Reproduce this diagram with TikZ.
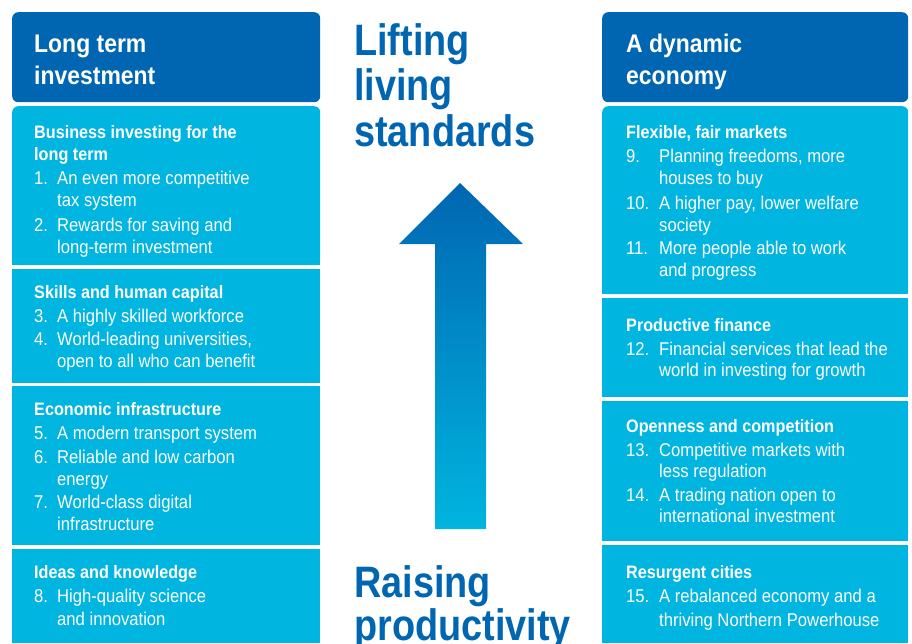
\documentclass[tikz,border=0pt]{standalone}
\usepackage{fontspec}
\setmainfont{Liberation Sans}[FakeStretch=0.9]
\newfontfamily\titlefont{Liberation Sans}[FakeStretch=0.86]
\definecolor{darkblue}{RGB}{0,102,178}
\definecolor{lightblue}{RGB}{0,181,223}
\begin{document}
\begin{tikzpicture}[x=1pt,y=-1pt,
headbox/.style={fill=darkblue,rounded corners=6pt,anchor=north west,inner sep=0pt},
sectbox/.style={fill=lightblue,anchor=north west,inner sep=0pt},
headtext/.style={anchor=base west,inner sep=0pt,text=white,font=\bfseries\fontsize{25.5}{30}\selectfont},
secttext/.style={anchor=base west,inner sep=0pt,text=white,font=\bfseries\fontsize{18}{22}\selectfont},
itemtext/.style={anchor=base west,inner sep=0pt,text=white,font=\fontsize{18.5}{22}\selectfont},
titletext/.style={anchor=base west,inner sep=0pt,text=darkblue,font=\titlefont\bfseries\fontsize{44}{46}\selectfont}]
\useasboundingbox (0,0) rectangle (912,643);
%left header
  \node[headbox,minimum width=308pt,minimum height=90pt] (lhead) at (12,12) {};
  \node[headtext] (lh1) at (34,52) {Long term};
  \node[headtext] (lh2) at (34,84) {investment};
%left 1
  \node[sectbox,rounded corners=6pt,minimum width=308pt,minimum height=159pt] (l1) at (12,106) {};
  \fill[lightblue] (l1.west) rectangle (l1.south east);
  \node[secttext] (l1t) at (34,138) {Business investing for the};
  \node[secttext] (l1u) at (34,160) {long term};
  \node[itemtext] (l1n1) at (34,184) {1.};
  \node[itemtext] (l1a) at (57,184) {An even more competitive};
  \node[itemtext] (l1b) at (57,206) {tax system};
  \node[itemtext] (l1n2) at (34,231) {2.};
  \node[itemtext] (l1c) at (57,231) {Rewards for saving and};
  \node[itemtext] (l1d) at (57,253) {long-term investment};
%left 2
  \node[sectbox,minimum width=308pt,minimum height=114pt] (l2) at (12,269) {};
  \node[secttext] (l2t) at (34,298) {Skills and human capital};
  \node[itemtext] (l2n3) at (34,322) {3.};
  \node[itemtext] (l2a) at (57,322) {A highly skilled workforce};
  \node[itemtext] (l2n4) at (34,345) {4.};
  \node[itemtext] (l2b) at (57,345) {World-leading universities,};
  \node[itemtext] (l2c) at (57,367) {open to all who can benefit};
%left 3
  \node[sectbox,minimum width=308pt,minimum height=159pt] (l3) at (12,386) {};
  \node[secttext] (l3t) at (34,415) {Economic infrastructure};
  \node[itemtext] (l3n5) at (34,439) {5.};
  \node[itemtext] (l3a) at (57,439) {A modern transport system};
  \node[itemtext] (l3n6) at (34,463) {6.};
  \node[itemtext] (l3b) at (57,463) {Reliable and low carbon};
  \node[itemtext] (l3c) at (57,485) {energy};
  \node[itemtext] (l3n7) at (34,508) {7.};
  \node[itemtext] (l3d) at (57,508) {World-class digital};
  \node[itemtext] (l3e) at (57,530) {infrastructure};
%left 4
  \node[sectbox,minimum width=308pt,minimum height=94pt] (l4) at (12,549) {};
  \node[secttext] (l4t) at (34,578) {Ideas and knowledge};
  \node[itemtext] (l4n8) at (34,602) {8.};
  \node[itemtext] (l4a) at (57,602) {High-quality science};
  \node[itemtext] (l4b) at (57,625) {and innovation};
%right header
  \node[headbox,minimum width=306pt,minimum height=90pt] (rhead) at (602,12) {};
  \node[headtext] (rh1) at (626,52) {A dynamic};
  \node[headtext] (rh2) at (626,84) {economy};
%right 1
  \node[sectbox,rounded corners=6pt,minimum width=306pt,minimum height=188pt] (r1) at (602,106) {};
  \fill[lightblue] (r1.west) rectangle (r1.south east);
  \node[secttext] (r1t) at (626,138) {Flexible, fair markets};
  \node[itemtext] (r1n9) at (626,162) {9.};
  \node[itemtext] (r1a) at (659,162) {Planning freedoms, more};
  \node[itemtext] (r1b) at (659,184) {houses to buy};
  \node[itemtext] (r1n10) at (626,209) {10.};
  \node[itemtext] (r1c) at (659,209) {A higher pay, lower welfare};
  \node[itemtext] (r1d) at (659,231) {society};
  \node[itemtext] (r1n11) at (626,254) {11.};
  \node[itemtext] (r1e) at (659,254) {More people able to work};
  \node[itemtext] (r1f) at (659,276) {and progress};
%right 2
  \node[sectbox,minimum width=306pt,minimum height=99pt] (r2) at (602,298) {};
  \node[secttext] (r2t) at (626,331) {Productive finance};
  \node[itemtext] (r2n12) at (626,355) {12.};
  \node[itemtext] (r2a) at (659,355) {Financial services that lead the};
  \node[itemtext] (r2b) at (659,376) {world in investing for growth};
%right 3
  \node[sectbox,minimum width=306pt,minimum height=140pt] (r3) at (602,401) {};
  \node[secttext] (r3t) at (626,432) {Openness and competition};
  \node[itemtext] (r3n13) at (626,456) {13.};
  \node[itemtext] (r3a) at (659,456) {Competitive markets with};
  \node[itemtext] (r3b) at (659,477) {less regulation};
  \node[itemtext] (r3n14) at (626,501) {14.};
  \node[itemtext] (r3c) at (659,501) {A trading nation open to};
  \node[itemtext] (r3d) at (659,522) {international investment};
%right 4
  \node[sectbox,minimum width=306pt,minimum height=98pt] (r4) at (602,545) {};
  \node[secttext] (r4t) at (626,578) {Resurgent cities};
  \node[itemtext] (r4n15) at (626,602) {15.};
  \node[itemtext] (r4a) at (659,602) {A rebalanced economy and a};
  \node[itemtext] (r4b) at (659,626) {thriving Northern Powerhouse};
%titles
  \node[titletext] (top1) at (354,55) {Lifting};
  \node[titletext] (top2) at (354,100) {living};
  \node[titletext] (top3) at (354,146) {standards};
  \node[titletext] (bot1) at (354,597) {Raising};
  \node[titletext] (bot2) at (354,640) {productivity};
%arrow
  \shade[top color=darkblue,bottom color=lightblue]
    (460,183) -- (523,244) -- (486,244) -- (486,529) -- (435,529)
    -- (435,244) -- (399,244) -- cycle;
\end{tikzpicture}
\end{document}
